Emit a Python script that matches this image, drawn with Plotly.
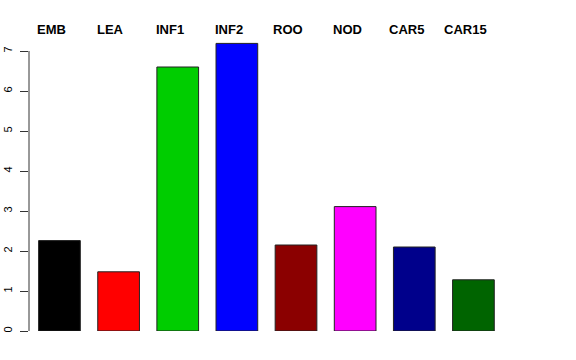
import plotly.graph_objects as go

categories = ["EMB", "LEA", "INF1", "INF2", "ROO", "NOD", "CAR5", "CAR15"]
values = [2.26, 1.48, 6.60, 7.19, 2.15, 3.11, 2.10, 1.28]
colors = ["#000000", "#FF0000", "#00CD00", "#0000FF", "#8B0000", "#FF00FF", "#00008B", "#006400"]
yticks = [0, 1, 2, 3, 4, 5, 6, 7]

xpos = list(range(len(categories)))

fig = go.Figure()
fig.add_trace(go.Bar(
    x=xpos, y=values, width=0.705,
    marker=dict(color=colors, line=dict(color="#222222", width=1)),
    showlegend=False, hoverinfo="skip",
))

for i, c in enumerate(categories):
    fig.add_annotation(x=i - 0.135, y=1.0332, xref="x", yref="paper", text="<b>" + c + "</b>",
                       showarrow=False, xanchor="center", yanchor="middle",
                       font=dict(family="Liberation Sans, Arial, sans-serif", size=13, color="#000000"))

# R-style y axis line spanning only 0..7
fig.add_shape(type="line", xref="paper", yref="y", x0=0, x1=0, y0=0, y1=7,
              line=dict(color="#333333", width=1))

fig.update_layout(
    width=576, height=360,
    margin=dict(l=29, r=72.5, t=38.7, b=29.3, autoexpand=False),
    paper_bgcolor="white", plot_bgcolor="white",
    xaxis=dict(range=[-0.515, 7.5], showticklabels=False, showgrid=False, zeroline=False,
               showline=False, ticks="", automargin=False),
    yaxis=dict(range=[0, 7.3], tickvals=yticks, ticktext=[str(v) for v in yticks],
               showgrid=False, zeroline=False, showline=False, automargin=False,
               ticks="outside", ticklen=8, tickcolor="#333333", tickwidth=1,
               tickangle=-90, ticklabelstandoff=4,
               tickfont=dict(family="Liberation Sans, Arial, sans-serif", size=11, color="#000000")),
)

fig.write_html("out.html", config={"displayModeBar": False, "staticPlot": True},
               post_script="document.body.style.margin='0';document.body.style.padding='0';")
